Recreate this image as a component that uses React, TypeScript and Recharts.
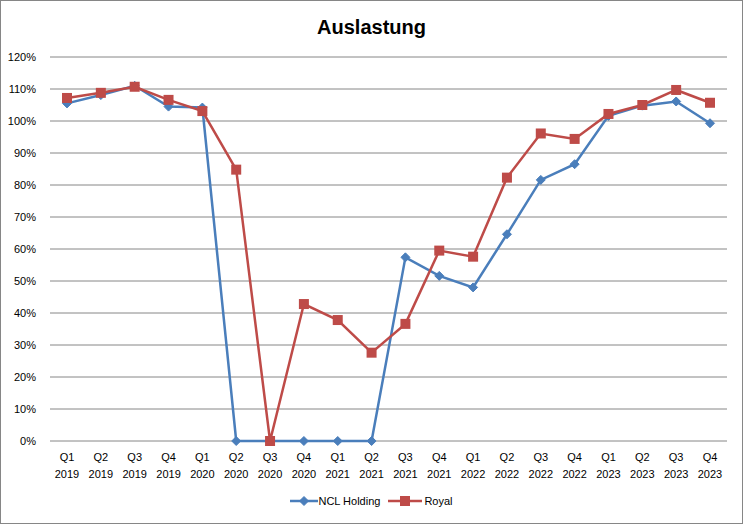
import React from "react";
import { LineChart, Line, XAxis, YAxis, CartesianGrid } from "recharts";

const quarters = [
  "Q1 2019", "Q2 2019", "Q3 2019", "Q4 2019",
  "Q1 2020", "Q2 2020", "Q3 2020", "Q4 2020",
  "Q1 2021", "Q2 2021", "Q3 2021", "Q4 2021",
  "Q1 2022", "Q2 2022", "Q3 2022", "Q4 2022",
  "Q1 2023", "Q2 2023", "Q3 2023", "Q4 2023",
];

const nclHolding = [
  105.5, 108.1, 111.0, 104.5, 104.2, 0, 0, 0, 0, 0,
  57.4, 51.6, 48.0, 64.6, 81.6, 86.5, 101.6, 104.8, 106.1, 99.3,
];

const royal = [
  107.2, 108.8, 110.7, 106.6, 103.1, 84.8, 0, 42.8, 37.8, 27.6,
  36.6, 59.5, 57.6, 82.3, 96.1, 94.4, 102.2, 105.0, 109.7, 105.7,
];

const yTicks = [0, 10, 20, 30, 40, 50, 60, 70, 80, 90, 100, 110, 120];

const data = quarters.map((q, i) => ({ q, ncl: nclHolding[i], royal: royal[i] }));

const BLUE = "#4a7ebb";
const RED = "#be4b48";
const FONT = "'Liberation Sans', Arial, sans-serif";

function Diamond({ cx, cy }: { cx?: number; cy?: number }) {
  if (cx == null || cy == null) return null;
  const r = 4.5;
  return (
    <path
      d={`M${cx},${cy - r}L${cx + r},${cy}L${cx},${cy + r}L${cx - r},${cy}Z`}
      fill={BLUE}
      stroke={BLUE}
      strokeWidth={1}
    />
  );
}

function Square({ cx, cy }: { cx?: number; cy?: number }) {
  if (cx == null || cy == null) return null;
  const h = 5;
  return <rect x={cx - h} y={cy - h} width={h * 2} height={h * 2} fill={RED} />;
}

function QuarterTick({ x, y, payload }: any) {
  const [q, year] = String(payload.value).split(" ");
  return (
    <text x={x} y={y} textAnchor="middle" fontSize={11} fontFamily={FONT} fill="#000">
      <tspan x={x} dy={12}>{q}</tspan>
      <tspan x={x} dy={17}>{year}</tspan>
    </text>
  );
}

export default function App() {
  return (
    <div
      style={{
        position: "absolute",
        left: 0,
        top: 0,
        width: 743,
        height: 524,
        border: "1px solid #868686",
        boxSizing: "border-box",
        background: "#fff",
        fontFamily: FONT,
      }}
    >
      <div
        style={{
          position: "absolute",
          top: 15,
          left: 0,
          width: 741,
          textAlign: "center",
          fontSize: 20,
          fontWeight: "bold",
        }}
      >
        Auslastung
      </div>
      <div style={{ position: "absolute", left: -1, top: -1 }}>
        <LineChart
          width={743}
          height={524}
          data={data}
          margin={{ top: 57, right: 16, bottom: 38, left: 0 }}
        >
          <CartesianGrid vertical={false} stroke="#868686" strokeWidth={1} />
          <XAxis
            dataKey="q"
            interval={0}
            axisLine={false}
            tickLine={false}
            height={45}
            padding={{ left: 17, right: 17 }}
            tick={<QuarterTick />}
          />
          <YAxis
            width={50}
            domain={[0, 120]}
            ticks={yTicks}
            interval={0}
            axisLine={false}
            tickLine={false}
            tickFormatter={(v) => `${v}%`}
            tick={{ fontSize: 11, fontFamily: FONT, fill: "#000" }}
            tickMargin={8}
          />
          <Line
            dataKey="ncl"
            name="NCL Holding"
            stroke={BLUE}
            strokeWidth={2.5}
            dot={<Diamond />}
            isAnimationActive={false}
          />
          <Line
            dataKey="royal"
            name="Royal"
            stroke={RED}
            strokeWidth={2.5}
            dot={<Square />}
            isAnimationActive={false}
          />
        </LineChart>
      </div>
      <div
        style={{
          position: "absolute",
          top: 494,
          left: 0,
          width: 741,
          display: "flex",
          justifyContent: "center",
          alignItems: "center",
          fontSize: 11,
          gap: 8,
        }}
      >
        <span style={{ display: "flex", alignItems: "center" }}>
          <svg width={28} height={12}>
            <line x1={0} y1={6} x2={28} y2={6} stroke={BLUE} strokeWidth={2.5} />
            <Diamond cx={14} cy={6} />
          </svg>
          <span>NCL Holding</span>
        </span>
        <span style={{ display: "flex", alignItems: "center" }}>
          <svg width={34} height={12}>
            <line x1={0} y1={6} x2={34} y2={6} stroke={RED} strokeWidth={2.5} />
            <Square cx={17} cy={6} />
          </svg>
          <span style={{ marginLeft: 2 }}>Royal</span>
        </span>
      </div>
    </div>
  );
}
